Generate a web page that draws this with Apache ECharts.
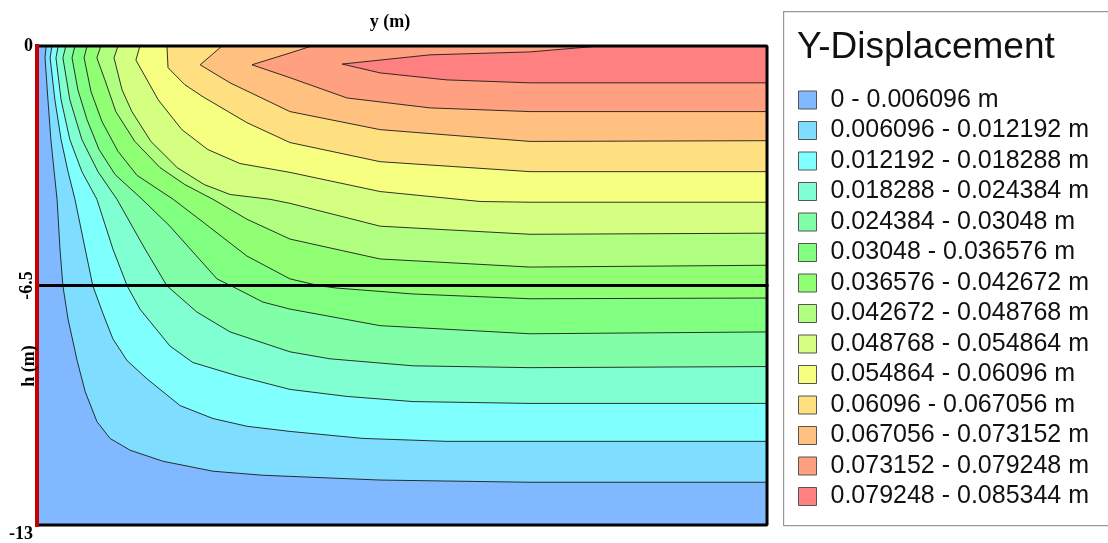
<!DOCTYPE html>
<html><head><meta charset="utf-8">
<script src="https://cdn.jsdelivr.net/npm/echarts@6/dist/echarts.min.js"></script>
<style>html,body{margin:0;padding:0;background:#fff}#c{width:1108px;height:543px}</style>
</head><body><div id="c"></div>
<script>
// ---- data ----
const bandLabels = [
  '0 - 0.006096 m','0.006096 - 0.012192 m','0.012192 - 0.018288 m','0.018288 - 0.024384 m',
  '0.024384 - 0.03048 m','0.03048 - 0.036576 m','0.036576 - 0.042672 m','0.042672 - 0.048768 m',
  '0.048768 - 0.054864 m','0.054864 - 0.06096 m','0.06096 - 0.067056 m','0.067056 - 0.073152 m',
  '0.073152 - 0.079248 m','0.079248 - 0.085344 m'
];
const bandColors = ['#80B9FF','#7FDDFF','#80FFFF','#80FFD2','#80FFA8','#80FF80','#90FF74','#B0FF80',
  '#D4FF80','#F6FF80','#FFE080','#FFC080','#FFA080','#FF8080'];
const yTicks = [0, -6.5, -13];
const xRange = [0, 20];
const yRange = [-13, 0];
// contour lines (y (m), h (m)) from the top surface to the right edge
const c1 = [[0.25,0],[0.22,-0.32],[0.30,-1.46],[0.38,-2.54],[0.47,-3.41],[0.55,-4.16],[0.63,-5.51],[0.71,-6.51],[0.85,-7.41],[1.10,-8.54],[1.32,-9.38],[1.64,-10.19],[2.00,-10.65],[2.55,-10.97],[3.45,-11.27],[4.82,-11.54],[6.19,-11.65],[6.93,-11.68],[9.40,-11.78],[13.51,-11.84],[20,-11.84]];
const c2 = [[0.41,0],[0.36,-0.32],[0.49,-1.46],[0.66,-2.54],[0.85,-3.41],[1.04,-4.16],[1.32,-5.51],[1.53,-6.51],[1.81,-7.27],[2.08,-7.95],[2.47,-8.54],[3.01,-9.03],[3.92,-9.76],[4.82,-10.11],[5.75,-10.32],[6.93,-10.46],[8.93,-10.65],[11.23,-10.73],[13.51,-10.73],[20,-10.73]];
const c3 = [[0.58,0],[0.52,-0.32],[0.66,-1.46],[0.90,-2.54],[1.23,-3.41],[1.64,-4.16],[2.08,-5.51],[2.47,-6.51],[2.82,-7.14],[3.64,-8.14],[4.27,-8.59],[5.48,-8.95],[6.93,-9.32],[8.49,-9.51],[10.30,-9.65],[13.51,-9.70],[20,-9.70]];
const c4 = [[0.79,0],[0.71,-0.32],[0.90,-1.46],[1.23,-2.54],[1.67,-3.41],[2.19,-4.16],[2.96,-5.51],[3.56,-6.51],[4.38,-7.22],[5.29,-7.76],[6.93,-8.30],[8.03,-8.49],[10.30,-8.68],[13.51,-8.73],[20,-8.70]];
const c5 = [[1.04,0],[0.96,-0.32],[1.12,-1.19],[1.37,-2.00],[1.70,-2.81],[2.14,-3.49],[2.88,-4.16],[3.64,-4.89],[4.93,-6.32],[5.48,-6.59],[6.19,-6.95],[6.93,-7.14],[9.40,-7.59],[13.51,-7.81],[20,-7.76]];
const c6 = [[1.37,0],[1.29,-0.32],[1.48,-1.24],[1.78,-2.05],[2.22,-2.86],[2.74,-3.51],[3.73,-4.16],[4.55,-4.78],[5.75,-5.70],[6.93,-6.32],[7.75,-6.51],[8.22,-6.57],[10.30,-6.73],[13.51,-6.86],[20,-6.84]];
const c7 = [[1.75,0],[1.64,-0.32],[1.86,-0.92],[2.16,-1.78],[2.68,-2.59],[3.37,-3.30],[4.05,-3.76],[4.82,-4.16],[5.75,-4.70],[6.93,-5.24],[9.40,-5.78],[13.51,-6.00],[20,-5.95]];
const c8 = [[2.22,0],[2.11,-0.32],[2.33,-1.19],[2.60,-1.78],[3.12,-2.59],[3.84,-3.30],[4.58,-3.76],[5.29,-4.03],[6.38,-4.16],[6.93,-4.27],[9.40,-4.89],[13.51,-5.11],[20,-5.08]];
const c9 = [[2.82,0],[2.71,-0.38],[3.32,-1.46],[3.97,-2.27],[4.68,-2.81],[5.56,-3.19],[6.93,-3.43],[9.40,-3.95],[12.14,-4.22],[13.51,-4.24],[20,-4.24]];
const c10 = [[3.56,0],[3.59,-0.59],[4.05,-1.05],[4.55,-1.38],[5.75,-2.08],[6.93,-2.62],[9.40,-3.14],[13.51,-3.41],[20,-3.41]];
const c11 = [[5.07,0],[4.47,-0.51],[5.29,-1.00],[6.93,-1.78],[9.40,-2.27],[13.51,-2.59],[20,-2.57]];
const c12 = [[7.53,0],[6.93,-0.19],[5.89,-0.51],[6.93,-0.86],[8.49,-1.41],[10.77,-1.68],[13.51,-1.78],[20,-1.78]];
const c13 = [[15.42,0],[13.51,-0.16],[10.77,-0.24],[8.36,-0.49],[9.40,-0.73],[11.23,-0.92],[13.51,-1.00],[20,-1.00]];
const contours = [c1,c2,c3,c4,c5,c6,c7,c8,c9,c10,c11,c12,c13];
const layerDepth = -6.5;

// ---- chart ----
const chart = echarts.init(document.getElementById('c'));
const series = [];
// base band (lowest values) fills the whole section
series.push({
  type: 'custom', name: bandLabels[0], z: 1, silent: true,
  itemStyle: { color: bandColors[0] },
  data: [[xRange[0], yRange[0]]],
  renderItem: (p, api) => {
    const a = api.coord([xRange[0], yRange[1]]);
    const b = api.coord([xRange[1], yRange[0]]);
    return { type: 'rect', shape: { x: a[0], y: a[1], width: b[0]-a[0], height: b[1]-a[1] },
             style: { fill: bandColors[0] } };
  }
});
// each higher band: region above/right of its lower contour
contours.forEach((c, i) => {
  series.push({
    type: 'custom', name: bandLabels[i+1], z: 1, silent: true,
    itemStyle: { color: bandColors[i+1] },
    data: [c[0]],
    renderItem: (p, api) => {
      const pts = c.map(q => api.coord(q));
      pts.push(api.coord([xRange[1], yRange[1]]));
      return { type: 'polygon', shape: { points: pts }, style: { fill: bandColors[i+1] } };
    }
  });
});
// contour lines
contours.forEach(c => {
  series.push({
    type: 'line', data: c, symbol: 'none', silent: true, z: 3, clip: true,
    lineStyle: { color: '#1c1c1c', width: 0.9 }, animation: false
  });
});
// frame & layer boundary
const frame = (data, color, width) => ({
  type: 'line', data, symbol: 'none', silent: true, z: 5, clip: false,
  lineStyle: { color, width, cap: 'square' }, animation: false
});
series.push(frame([[xRange[0], layerDepth],[xRange[1], layerDepth]], '#000', 3));
series.push(frame([[xRange[0], yRange[1]],[xRange[1], yRange[1]],[xRange[1], yRange[0]],[xRange[0], yRange[0]]], '#000', 3));
series.push(frame([[xRange[0], yRange[1]],[xRange[0], yRange[0]]], '#C40000', 4));

const serif = '"Liberation Serif","Times New Roman",serif';
chart.setOption({
  animation: false,
  backgroundColor: '#fff',
  grid: { left: 37, top: 46, width: 730, height: 481 },
  xAxis: { type: 'value', min: xRange[0], max: xRange[1], position: 'top',
    axisLine: { show: false }, axisTick: { show: false }, axisLabel: { show: false }, splitLine: { show: false } },
  yAxis: [
    { type: 'value', min: yRange[0], max: yRange[1], interval: 13,
      axisLine: { show: false }, axisTick: { show: false }, splitLine: { show: false },
      axisLabel: { margin: 4, fontFamily: serif, fontWeight: 'bold', fontSize: 18, color: '#000',
        padding: [0, 0, 14, 0], verticalAlignMinLabel: 'top', verticalAlignMaxLabel: 'middle',
        formatter: v => (yTicks.includes(v) ? String(v) : '') } },
    { type: 'value', min: yRange[0], max: yRange[1], interval: 6.5, position: 'left',
      axisLine: { show: false }, axisTick: { show: false }, splitLine: { show: false },
      axisLabel: { margin: 1, rotate: 90, fontFamily: serif, fontWeight: 'bold', fontSize: 18, color: '#000',
        formatter: v => (v === yTicks[1] ? String(v) : '') } }
  ],
  legend: {
    data: bandLabels, orient: 'vertical', left: 798, top: 87, padding: 0, selectedMode: false,
    icon: 'rect', itemWidth: 18, itemHeight: 18, itemGap: 4.5,
    itemStyle: { borderColor: '#555', borderWidth: 1 },
    textStyle: { fontFamily: '"Liberation Sans",Arial,sans-serif', fontSize: 25, lineHeight: 26,
      color: '#111', padding: [0, 0, 0, 9] }
  },
  graphic: [
    { type: 'rect', left: 783, top: 11, z: -1, shape: { width: 340, height: 514 },
      style: { fill: '#fff', stroke: '#999', lineWidth: 1.2 } },
    { type: 'text', x: 797, y: 48, z: 10, style: { text: 'Y-Displacement', fontFamily: '"Liberation Sans",Arial,sans-serif',
      fontSize: 37, fill: '#111', align: 'left', verticalAlign: 'middle' } },
    { type: 'text', x: 390, y: 22, z: 10, style: { text: 'y (m)', fontFamily: serif, fontWeight: 'bold',
      fontSize: 18, fill: '#000', align: 'center', verticalAlign: 'middle' } },
    { type: 'text', x: 29, y: 366, rotation: Math.PI/2, z: 10, style: { text: 'h (m)', fontFamily: serif, fontWeight: 'bold',
      fontSize: 18, fill: '#000', align: 'center', verticalAlign: 'middle' } }
  ],
  series
});
</script></body></html>
